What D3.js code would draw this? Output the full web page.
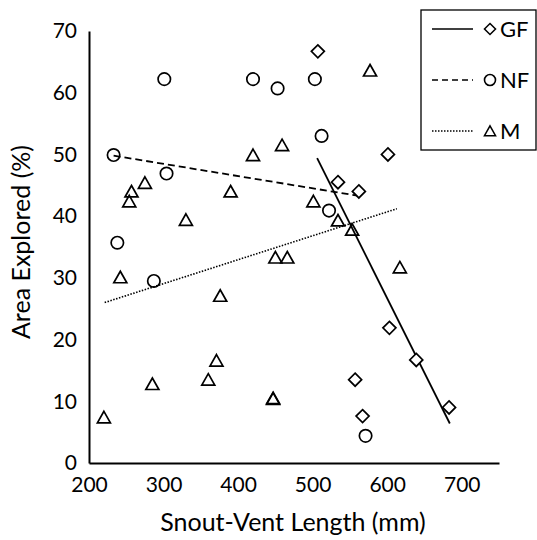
<!DOCTYPE html>
<html>
<head>
<meta charset="utf-8">
<script src="https://cdn.jsdelivr.net/npm/d3@7"></script>
<style>
  body { margin: 0; background: #fff; }
  svg { font-family: Lato, "Open Sans", sans-serif; }
</style>
</head>
<body>
<svg width="537" height="540"></svg>
<script>
// GF points (diamonds)
const gfX = [507, 534, 562, 601, 557, 567, 603, 639, 683];
const gfY = [66.7, 45.5, 44.0, 50.0, 13.5, 7.6, 21.9, 16.7, 9.0];
// NF points (circles)
const nfX = [301, 420, 453, 233, 304, 503, 512, 522, 238, 287, 571];
const nfY = [62.2, 62.2, 60.7, 49.9, 46.9, 62.2, 53.0, 40.9, 35.7, 29.5, 4.4];
// M points (triangles)
const mX = [420, 459, 275, 257, 254, 390, 330, 577, 501, 534, 553, 242, 376, 450, 466, 371, 360, 285, 220, 447, 447, 617];
const mY = [49.9, 51.5, 45.4, 44.0, 42.4, 44.0, 39.4, 63.6, 42.4, 39.3, 37.8, 30.1, 27.1, 33.3, 33.3, 16.6, 13.5, 12.8, 7.4, 10.4, 10.5, 31.7];

// trend lines
const gfTrendX = [506, 684], gfTrendY = [49.4, 6.4];
const nfTrendX = [233, 566], nfTrendY = [49.8, 43.2];
const mTrendX = [221, 613], mTrendY = [26.0, 41.2];

const xTicks = [200, 300, 400, 500, 600, 700];
const yTicks = [0, 10, 20, 30, 40, 50, 60, 70];
const seriesNames = ["GF", "NF", "M"];

const svg = d3.select("svg");

const x = d3.scaleLinear().domain([200, 750]).range([89, 499]);
const y = d3.scaleLinear().domain([0, 70]).range([463, 31]);

const xAxis = d3.axisBottom(x).tickValues(xTicks).tickSize(0).tickPadding(14);
const yAxis = d3.axisLeft(y).tickValues(yTicks).tickSize(0).tickPadding(12);

const gx = svg.append("g").attr("transform", "translate(0,463)").call(xAxis);
const gy = svg.append("g").attr("transform", "translate(89,0)").call(yAxis);

[gx, gy].forEach(g => {
    g.select(".domain").attr("stroke", "#000").attr("stroke-width", 2);
    g.selectAll("text")
        .attr("font-family", "Lato, 'Open Sans', sans-serif")
        .attr("font-size", "21px")
        .attr("fill", "#000");
});

svg.append("text")
    .attr("x", 293)
    .attr("y", 531)
    .attr("text-anchor", "middle")
    .attr("font-size", "25px")
    .text("Snout-Vent Length (mm)");

svg.append("text")
    .attr("transform", "translate(30,242) rotate(-90)")
    .attr("text-anchor", "middle")
    .attr("font-size", "25px")
    .text("Area Explored (%)");

function trend(xs, ys) {
    return xs.map((v, i) => [x(v), y(ys[i])]);
}

const line = d3.line();

svg.append("path")
    .attr("d", line(trend(gfTrendX, gfTrendY)))
    .attr("stroke", "#000").attr("stroke-width", 1.8).attr("fill", "none");
svg.append("path")
    .attr("d", line(trend(nfTrendX, nfTrendY)))
    .attr("stroke", "#000").attr("stroke-width", 1.8)
    .attr("stroke-dasharray", "7,4").attr("fill", "none");
svg.append("path")
    .attr("d", line(trend(mTrendX, mTrendY)))
    .attr("stroke", "#000").attr("stroke-width", 1.6)
    .attr("stroke-dasharray", "1.5,1.5").attr("fill", "none");

const diamond = "M0,-6.5L6.5,0L0,6.5L-6.5,0Z";
const tri = "M0,-6L6.5,5.5L-6.5,5.5Z";

svg.append("g").selectAll("path")
    .data(gfX.map((v, i) => [v, gfY[i]]))
    .join("path")
    .attr("d", diamond)
    .attr("transform", d => `translate(${x(d[0])},${y(d[1])})`)
    .attr("fill", "#fff").attr("stroke", "#000").attr("stroke-width", 1.7);

svg.append("g").selectAll("circle")
    .data(nfX.map((v, i) => [v, nfY[i]]))
    .join("circle")
    .attr("cx", d => x(d[0]))
    .attr("cy", d => y(d[1]))
    .attr("r", 6.2)
    .attr("fill", "none").attr("stroke", "#000").attr("stroke-width", 1.7);

svg.append("g").selectAll("path")
    .data(mX.map((v, i) => [v, mY[i]]))
    .join("path")
    .attr("d", tri)
    .attr("transform", d => `translate(${x(d[0])},${y(d[1])})`)
    .attr("fill", "none").attr("stroke", "#000").attr("stroke-width", 1.7);

// legend
const legend = svg.append("g");
legend.append("rect")
    .attr("x", 421).attr("y", 10).attr("width", 115).attr("height", 140)
    .attr("fill", "#fff").attr("stroke", "#000").attr("stroke-width", 1.3);

const dashes = [null, "6,4", "1.5,1.5"];
const shapes = [diamond, null, tri];
seriesNames.forEach((name, i) => {
    const ly = 29 + i * 51;
    legend.append("line")
        .attr("x1", 432).attr("x2", 473).attr("y1", ly).attr("y2", ly)
        .attr("stroke", "#000").attr("stroke-width", 1.6)
        .attr("stroke-dasharray", dashes[i]);
    if (shapes[i]) {
        legend.append("path")
            .attr("d", shapes[i])
            .attr("transform", `translate(490,${ly}) scale(0.85)`)
            .attr("fill", "none").attr("stroke", "#000").attr("stroke-width", 1.8);
    } else {
        legend.append("circle")
            .attr("cx", 490).attr("cy", ly).attr("r", 5.5)
            .attr("fill", "none").attr("stroke", "#000").attr("stroke-width", 1.6);
    }
    legend.append("text")
        .attr("x", 500).attr("y", ly + 8)
        .attr("font-size", "22px")
        .text(name);
});
</script>
</body>
</html>
